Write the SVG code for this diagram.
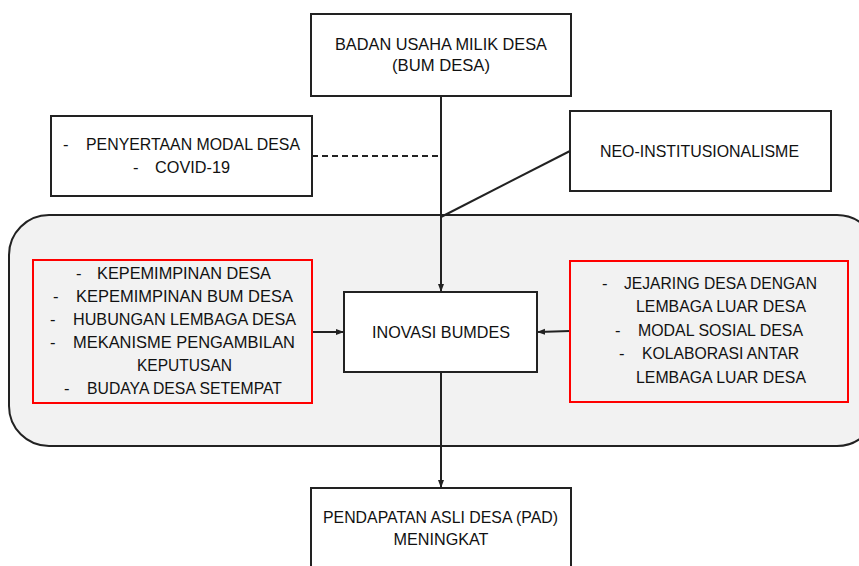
<svg xmlns="http://www.w3.org/2000/svg" width="859" height="566" viewBox="0 0 859 566">
<style>
text{font-family:"Liberation Sans",Arial,sans-serif;font-size:16.6px;fill:#111}
.box{fill:#fff;stroke:#222;stroke-width:2}
.red{fill:none;stroke:#f00;stroke-width:2}
.ln{stroke:#222;stroke-width:2;fill:none}
</style>
<defs>
<marker id="ah" markerWidth="8" markerHeight="8" refX="7" refY="4" orient="auto" markerUnits="userSpaceOnUse">
<path d="M0,1 L8,4 L0,7 Z" fill="#222"/>
</marker>
</defs>
<rect id="panel" x="9" y="215" width="868" height="231" rx="40" ry="40" fill="#f2f2f2" stroke="#222" stroke-width="2"/>
<g id="connectors">
<line class="ln" x1="441" y1="96" x2="441" y2="291" marker-end="url(#ah)"/>
<line class="ln" x1="312" y1="156" x2="440" y2="156" stroke-dasharray="6,4"/>
<line class="ln" x1="570" y1="151" x2="441" y2="217"/>
<line class="ln" x1="312" y1="332" x2="343" y2="332" marker-end="url(#ah)"/>
<line class="ln" x1="570" y1="331" x2="538" y2="332" marker-end="url(#ah)"/>
<line class="ln" x1="441" y1="372" x2="441" y2="487" marker-end="url(#ah)"/>
</g>
<g id="bumdesa">
<rect class="box" x="311" y="14" width="260" height="82"/>
<text x="441" y="50" text-anchor="middle" textLength="212" lengthAdjust="spacingAndGlyphs">BADAN USAHA MILIK DESA</text>
<text x="441" y="71" text-anchor="middle" textLength="98" lengthAdjust="spacingAndGlyphs">(BUM DESA)</text>
</g>
<g id="penyertaan">
<rect class="box" x="51" y="116" width="261" height="80"/>
<text x="63" y="150">-</text>
<text x="86" y="150" textLength="214" lengthAdjust="spacingAndGlyphs">PENYERTAAN MODAL DESA</text>
<text x="133" y="173">-</text>
<text x="155" y="173" textLength="75" lengthAdjust="spacingAndGlyphs">COVID-19</text>
</g>
<g id="neo">
<rect class="box" x="570" y="111" width="261" height="80"/>
<text x="600" y="157" textLength="199" lengthAdjust="spacingAndGlyphs">NEO-INSTITUSIONALISME</text>
</g>
<g id="internal">
<rect class="red" x="33" y="260" width="279" height="143"/>
<text x="76" y="279">-</text>
<text x="97" y="279" textLength="174" lengthAdjust="spacingAndGlyphs">KEPEMIMPINAN DESA</text>
<text x="53" y="302">-</text>
<text x="76" y="302" textLength="217" lengthAdjust="spacingAndGlyphs">KEPEMIMPINAN BUM DESA</text>
<text x="50" y="325">-</text>
<text x="73" y="325" textLength="223" lengthAdjust="spacingAndGlyphs">HUBUNGAN LEMBAGA DESA</text>
<text x="50" y="348">-</text>
<text x="73" y="348" textLength="222" lengthAdjust="spacingAndGlyphs">MEKANISME PENGAMBILAN</text>
<text x="137" y="371" textLength="95" lengthAdjust="spacingAndGlyphs">KEPUTUSAN</text>
<text x="64" y="394">-</text>
<text x="87" y="394" textLength="195" lengthAdjust="spacingAndGlyphs">BUDAYA DESA SETEMPAT</text>
</g>
<g id="inovasi">
<rect class="box" x="344" y="292" width="193" height="80"/>
<text x="372" y="338" textLength="138" lengthAdjust="spacingAndGlyphs">INOVASI BUMDES</text>
</g>
<g id="external">
<rect class="red" x="570" y="261" width="278" height="141"/>
<text x="602" y="289">-</text>
<text x="624" y="289" textLength="193" lengthAdjust="spacingAndGlyphs">JEJARING DESA DENGAN</text>
<text x="636" y="312" textLength="170" lengthAdjust="spacingAndGlyphs">LEMBAGA LUAR DESA</text>
<text x="615" y="336">-</text>
<text x="638" y="336" textLength="165" lengthAdjust="spacingAndGlyphs">MODAL SOSIAL DESA</text>
<text x="619" y="359">-</text>
<text x="642" y="359" textLength="157" lengthAdjust="spacingAndGlyphs">KOLABORASI ANTAR</text>
<text x="636" y="383" textLength="170" lengthAdjust="spacingAndGlyphs">LEMBAGA LUAR DESA</text>
</g>
<g id="pad">
<rect class="box" x="311" y="488" width="260" height="90"/>
<text x="323" y="523" textLength="235" lengthAdjust="spacingAndGlyphs">PENDAPATAN ASLI DESA (PAD)</text>
<text x="441" y="545" text-anchor="middle" textLength="95" lengthAdjust="spacingAndGlyphs">MENINGKAT</text>
</g>
</svg>
